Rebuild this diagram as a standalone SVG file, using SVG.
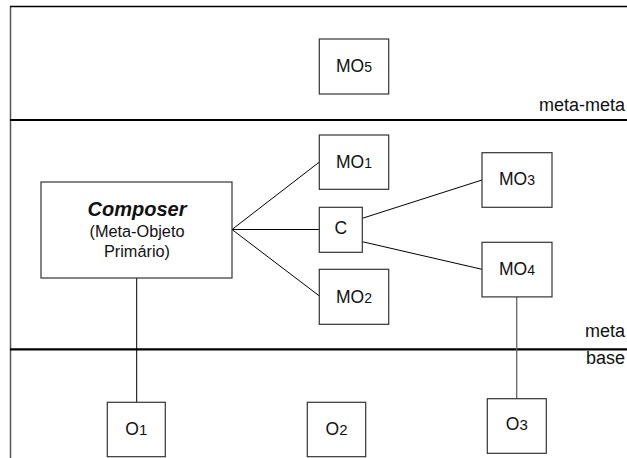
<svg xmlns="http://www.w3.org/2000/svg" width="627" height="458" viewBox="0 0 627 458">
<style>
text{font-family:"Liberation Sans",Arial,sans-serif;fill:#111;}
.box{fill:#fff;stroke:#333;stroke-width:1.2;}
.lbl{font-size:17.5px;text-anchor:middle;}
.sub{font-size:14px;}
.osub{font-size:15px;}
.lvl{font-size:18px;text-anchor:end;}
.conn{stroke:#000;stroke-width:1;fill:none;}
.gconn{stroke:#666;stroke-width:1.3;fill:none;}
</style>
<g id="frame">
<line x1="10.5" y1="6.5" x2="10.5" y2="458" stroke="#555" stroke-width="1.5"/>
<line x1="10" y1="6.5" x2="627" y2="6.5" stroke="#000" stroke-width="1.5"/>
<line x1="10" y1="120" x2="627" y2="120" stroke="#000" stroke-width="2.2"/>
<line x1="10" y1="349.3" x2="627" y2="349.3" stroke="#000" stroke-width="2.2"/>
<text class="lvl" x="625" y="110.7">meta-meta</text>
<text class="lvl" x="625" y="337.3">meta</text>
<text class="lvl" x="625" y="364">base</text>
</g>
<g id="connectors">
<line class="conn" x1="232" y1="229.5" x2="319" y2="162.3"/>
<line class="conn" x1="232" y1="229.5" x2="319" y2="229.5"/>
<line class="conn" x1="232" y1="229.5" x2="319" y2="295.7"/>
<line class="conn" x1="362.3" y1="218.3" x2="482" y2="180"/>
<line class="conn" x1="362.3" y1="241.7" x2="482" y2="269.3"/>
<line class="conn" x1="136.7" y1="278" x2="136.7" y2="402.3"/>
<line class="gconn" x1="516.7" y1="297" x2="516.7" y2="398.7"/>
</g>
<g id="MO5">
<rect class="box" x="319.3" y="39" width="69.4" height="55"/>
<text class="lbl" x="354" y="71.7">MO<tspan class="sub">5</tspan></text>
</g>
<g id="Composer">
<rect class="box" x="41" y="182" width="191" height="96"/>
<text x="137" y="216" font-size="20px" font-weight="bold" font-style="italic" text-anchor="middle">Composer</text>
<text x="137" y="237.3" font-size="16.3px" text-anchor="middle">(Meta-Objeto</text>
<text x="137" y="257" font-size="16.3px" text-anchor="middle">Primário)</text>
</g>
<g id="MO1">
<rect class="box" x="319.3" y="135" width="69.4" height="54.3"/>
<text class="lbl" x="354" y="168.3">MO<tspan class="sub">1</tspan></text>
</g>
<g id="C">
<rect class="box" x="319.3" y="207.3" width="43" height="45"/>
<text class="lbl" x="340.8" y="234">C</text>
</g>
<g id="MO2">
<rect class="box" x="319.3" y="269.3" width="69.4" height="55"/>
<text class="lbl" x="354" y="302.7">MO<tspan class="sub">2</tspan></text>
</g>
<g id="MO3">
<rect class="box" x="482" y="152.7" width="70" height="54.6"/>
<text class="lbl" x="517" y="185">MO<tspan class="sub">3</tspan></text>
</g>
<g id="MO4">
<rect class="box" x="482" y="242.3" width="70" height="54.6"/>
<text class="lbl" x="517" y="275">MO<tspan class="sub">4</tspan></text>
</g>
<g id="O1">
<rect class="box" x="107.3" y="402.3" width="58" height="54.4"/>
<text class="lbl" x="136.3" y="435">O<tspan class="osub">1</tspan></text>
</g>
<g id="O2">
<rect class="box" x="307.3" y="402.3" width="58.4" height="54.4"/>
<text class="lbl" x="336.5" y="435">O<tspan class="osub">2</tspan></text>
</g>
<g id="O3">
<rect class="box" x="487.3" y="398.7" width="59" height="54.6"/>
<text class="lbl" x="516.8" y="430">O<tspan class="osub">3</tspan></text>
</g>
</svg>
